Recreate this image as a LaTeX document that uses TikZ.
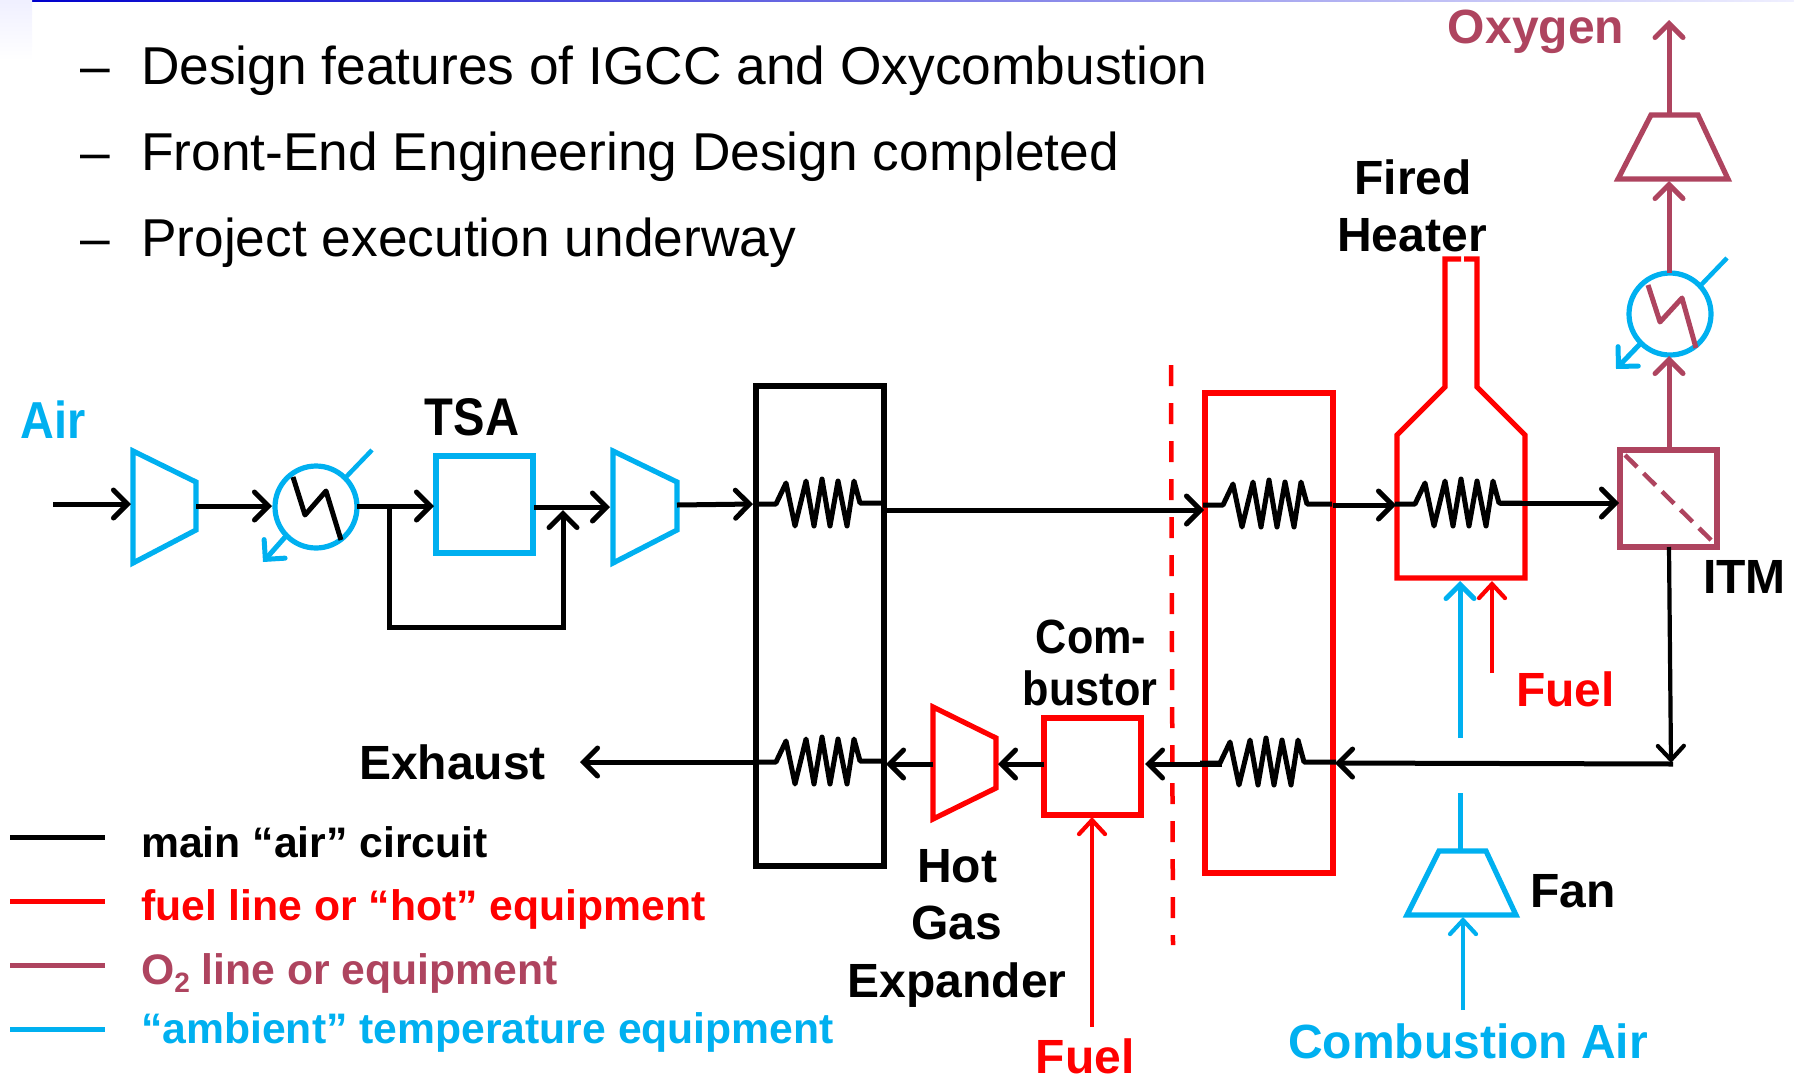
\documentclass[tikz,border=0pt]{standalone}
\usepackage{fontspec}
\setmainfont{Liberation Sans}
\usetikzlibrary{arrows.meta,shadings}
\definecolor{cblue}{HTML}{00B0F0}
\definecolor{cred}{HTML}{FF0000}
\definecolor{coxy}{HTML}{AE445F}
\tikzset{
 flow/.style={line width=5pt,-{Straight Barb[length=14pt,width=28pt,line width=5pt,line cap=round]}},
 thinflow/.style={line width=4.2pt,-{Straight Barb[length=14pt,width=26pt,line width=4.2pt,line cap=round]}},
 equip/.style={line width=5.2pt,line join=miter},
 coil/.style={line width=5pt,line join=round},
 lbl/.style={anchor=base,inner sep=0pt,font=\fontsize{48}{48}\selectfont\bfseries},
 leg/.style={anchor=base west,inner sep=0pt,font=\fontsize{42.7}{43}\selectfont\bfseries},
 bul/.style={anchor=base west,inner sep=0pt,font=\fontsize{53.3}{54}\selectfont},
 legline/.style={line width=5pt},
}
% coil: #1 left end of the lead, #2 lead height, #3 length of the right lead
\newcommand{\heatcoil}[3]{\draw[coil] (#1,#2) -- ++(20,0) -- ++(10,-21) -- ++(9,43) -- ++(11,-45) -- ++(8,45) -- ++(8,-47) -- ++(8,47) -- ++(8,-45) -- ++(9,45) -- ++(7,-45) -- ++(6,22) -- ++(#3,0);}
\begin{document}
\begin{tikzpicture}[x=1pt,y=-1pt]
\useasboundingbox (0,0) rectangle (1794,1077);
\shade[left color=blue!80!black,right color=blue!6] (32,0) rectangle (1794,1.6);
\shade[top color=blue!6,bottom color=white] (0,0) rectangle (32,60);
% bullets
\node[bul] (b1d) at (80,84) {–};
\node[bul] (b1) at (141,84) {Design features of IGCC and Oxycombustion};
\node[bul] (b2d) at (80,170) {–};
\node[bul] (b2) at (141,170) {Front-End Engineering Design completed};
\node[bul] (b3d) at (80,256) {–};
\node[bul] (b3) at (141,256) {Project execution underway};
% labels
\node[lbl,text=cblue,font=\fontsize{52}{52}\selectfont\bfseries] (air) at (53,438) {\scalebox{.9}[1]{Air}};
\node[lbl,font=\fontsize{53}{53}\selectfont\bfseries] (tsal) at (472,435) {\scalebox{.89}[1]{TSA}};
\node[lbl,text=coxy] (oxy) at (1536,43) {Oxygen};
\node[lbl] (fired) at (1413,194) {Fired};
\node[lbl] (heater) at (1412,251) {Heater};
\node[lbl,anchor=base west] (itm) at (1703,593) {ITM};
\node[lbl,text=cred,anchor=base west] (fuel1) at (1516,706) {Fuel};
\node[lbl] (com) at (1091,653) {\scalebox{.9}[1]{Com-}};
\node[lbl] (bustor) at (1090,705) {\scalebox{.9}[1]{bustor}};
\node[lbl,anchor=base west] (exh) at (359,779) {Exhaust};
\node[lbl] (hot) at (957,882) {Hot};
\node[lbl] (gas) at (957,939) {Gas};
\node[lbl] (exp) at (957,997) {Expander};
\node[lbl,anchor=base west] (fan) at (1530,907) {Fan};
\node[lbl,text=cred] (fuel2) at (1085,1073) {Fuel};
\node[lbl,text=cblue] (cair) at (1468,1058) {Combustion Air};
% legend
\coordinate (l1a) at (10,837); \coordinate (l1b) at (105,837);
\coordinate (l2a) at (10,901); \coordinate (l2b) at (105,901);
\coordinate (l3a) at (10,965); \coordinate (l3b) at (105,965);
\coordinate (l4a) at (10,1029); \coordinate (l4b) at (105,1029);
\draw[legline] (l1a)--(l1b);
\draw[legline,cred] (l2a)--(l2b);
\draw[legline,coxy] (l3a)--(l3b);
\draw[legline,cblue] (l4a)--(l4b);
\node[leg] (t1) at (141,857) {main “air” circuit};
\node[leg,text=cred] (t2) at (141,920) {fuel line or “hot” equipment};
\node[leg,text=coxy] (t3) at (141,984) {O\raisebox{-.2em}{\fontsize{28}{28}\selectfont 2} line or equipment};
\node[leg,text=cblue] (t4) at (141,1043) {“ambient” temperature equipment};
% equipment: blue
\draw[equip,cblue] (133,451)--(196,482)--(196,530)--(133,563)--cycle;
\draw[equip,cblue] (613,451)--(677,482)--(677,530)--(613,563)--cycle;
\draw[equip,cblue] (436,456) rectangle (533,553);
\draw[equip,cblue] (316,507) circle (41);
\draw[line width=4.5pt,cblue] (346,477)--(372,450);
\draw[flow,cblue] (286,536)--(263,562);
\draw[coil] (293,477)--(305,515)--(326,491)--(341,540);
% black boxes
\draw[equip] (756,386) rectangle (884,866);
% red
\draw[equip,cred] (1205,393) rectangle (1333,873);
\draw[equip,cred] (1461,259)--(1445,259)--(1445,387)--(1397,435)--(1397,578)--(1525,578)--(1525,435)--(1477,387)--(1477,259)--(1464,259);
\draw[equip,cred] (1044,718) rectangle (1141,815);
\draw[equip,cred] (933,707)--(996,738)--(996,788)--(933,819)--cycle;
\draw[line width=4.5pt,cred,dash pattern=on 21pt off 17pt] (1171,365)--(1173,945);
% oxygen equipment
\draw[equip,coxy] (1620,450) rectangle (1717,547);
\draw[line width=4.5pt,coxy,dash pattern=on 17pt off 9pt] (1625,455)--(1711,540);
\draw[equip,coxy] (1651,115)--(1698,115)--(1728,179)--(1618,179)--cycle;
\draw[equip,cblue] (1670,314) circle (41);
\draw[line width=4.5pt,cblue] (1701,285)--(1727,258);
\draw[flow,cblue] (1640,344)--(1616,369);
\draw[coil,coxy] (1648,285)--(1660,322)--(1682,298)--(1696,348);
% fan
\draw[equip,cblue] (1439,851)--(1486,851)--(1516,915)--(1407,915)--cycle;
% coils
\heatcoil{756}{504}{23}
\heatcoil{1203}{505}{25}
\heatcoil{1395}{504}{23}
\heatcoil{756}{762}{23}
\heatcoil{1200}{763}{32}
% main flow
\coordinate (in) at (53,504);
\draw[flow] (in)--(131,504);
\draw[flow] (196,506)--(272,506);
\draw[flow] (357,506)--(434,506);
\draw[flow] (534,507)--(610,507);
\draw[flow] (677,505)--(753,504);
\draw[flow] (885,510)--(1204,510);
\draw[flow] (1333,505)--(1396,505);
\draw[flow] (1500,503)--(1619,503);
\draw[line width=5pt,-{Straight Barb[length=14pt,width=28pt,line width=5pt,line cap=round]}] (389,506)--(389,627)--(563,627)--(563,510);
\draw[thinflow] (1669,547)--(1671,763);
\draw[flow] (1673,764)--(1335,763);
\draw[flow] (1222,764)--(1145,764);
\draw[flow] (1044,764)--(998,764);
\draw[flow] (933,764)--(886,764);
\draw[flow] (756,762)--(580,762);
% oxygen flow
\draw[flow,coxy] (1669,449)--(1669,356);
\draw[flow,coxy] (1669,273)--(1669,181);
\draw[flow,coxy] (1669,113)--(1669,20);
% fuels and air
\draw[thinflow,cred] (1092,1027)--(1092,817);
\draw[thinflow,cred] (1492,673)--(1492,581);
\draw[flow,cblue] (1460,738)--(1460,581);
\draw[line width=5pt,cblue] (1460,793)--(1460,850);
\draw[thinflow,cblue] (1463,1010)--(1463,917);
\end{tikzpicture}
\end{document}
